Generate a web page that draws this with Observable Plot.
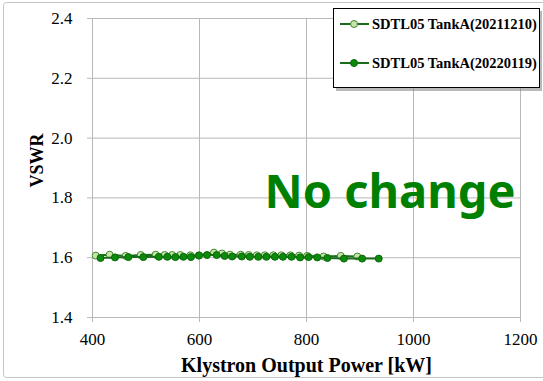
<!DOCTYPE html>
<html>
<head>
<meta charset="utf-8">
<script src="https://cdn.jsdelivr.net/npm/d3@7"></script>
<script src="https://cdn.jsdelivr.net/npm/@observablehq/plot@0.6"></script>
<style>
  html, body { margin: 0; padding: 0; background: #fff; }
  #wrap { position: relative; width: 543px; height: 381px; overflow: hidden; }
  #overlay { position: absolute; left: 0; top: 0; pointer-events: none; }
</style>
</head>
<body>
<div id="wrap"></div>
<script>
// ---- data ----
const seriesNames = ["SDTL05 TankA(20211210)", "SDTL05 TankA(20220119)"];

const powerA = [406, 432, 462, 490, 518, 535, 549, 564, 583, 599, 627, 642, 657, 677, 692, 707, 722, 738, 753, 770, 786, 801, 832, 864, 895];
const vswrA  = [1.607, 1.610, 1.606, 1.609, 1.610, 1.609, 1.609, 1.609, 1.608, 1.608, 1.617, 1.614, 1.610, 1.610, 1.609, 1.608, 1.608, 1.608, 1.608, 1.608, 1.607, 1.606, 1.604, 1.606, 1.604];

const powerB = [415, 442, 467, 495, 524, 540, 555, 570, 584, 599, 614, 632, 647, 661, 679, 694, 710, 725, 741, 756, 772, 788, 804, 820, 839, 870, 904, 935];
const vswrB  = [1.599, 1.601, 1.602, 1.602, 1.603, 1.603, 1.602, 1.603, 1.602, 1.607, 1.609, 1.609, 1.606, 1.604, 1.604, 1.603, 1.603, 1.603, 1.603, 1.603, 1.603, 1.601, 1.602, 1.601, 1.599, 1.597, 1.597, 1.597];

const xTicks = [400, 600, 800, 1000, 1200];
const yTicks = [1.4, 1.6, 1.8, 2.0, 2.2, 2.4];
const xTitle = "Klystron Output Power [kW]";
const yTitle = "VSWR";
const note = "No change";

const dataA = powerA.map((p, i) => ({power: p, vswr: vswrA[i]}));
const dataB = powerB.map((p, i) => ({power: p, vswr: vswrB[i]}));

const lineColor = "#1d6b1d";
const darkFill = "#0b8a0b";
const lightFill = "#c8e3a8";
const gridColor = "#b8b8b8";
const serif = "Liberation Serif, Times New Roman, serif";

const chart = Plot.plot({
  width: 543,
  height: 381,
  marginLeft: 92,
  marginRight: 23,
  marginTop: 18,
  marginBottom: 64,
  style: {fontFamily: serif, fontSize: "17px", color: "#000", background: "transparent"},
  x: {domain: [400, 1200], ticks: xTicks, label: null, tickFormat: d3.format("d")},
  y: {domain: [1.4, 2.4], ticks: yTicks, label: null, tickFormat: d3.format(".1f")},
  marks: [
    Plot.gridX(xTicks, {stroke: gridColor, strokeOpacity: 1}),
    Plot.gridY(yTicks, {stroke: gridColor, strokeOpacity: 1}),
    Plot.axisX(xTicks, {tickSize: 5, tickPadding: 10, stroke: gridColor, fill: "#000", fontSize: 17, fontFamily: serif, label: null, tickFormat: d3.format("d")}),
    Plot.axisY(yTicks, {tickSize: 5, tickPadding: 15, stroke: gridColor, fill: "#000", fontSize: 17, fontFamily: serif, label: null, tickFormat: d3.format(".1f")}),
    Plot.ruleX([400], {stroke: gridColor}),
    Plot.ruleY([1.4], {stroke: gridColor}),
    Plot.line(dataA, {x: "power", y: "vswr", stroke: lineColor, strokeWidth: 2}),
    Plot.dot(dataA, {x: "power", y: "vswr", r: 3.5, fill: lightFill, stroke: "#3d8a2e", strokeWidth: 1}),
    Plot.line(dataB, {x: "power", y: "vswr", stroke: lineColor, strokeWidth: 2}),
    Plot.dot(dataB, {x: "power", y: "vswr", r: 3.5, fill: darkFill, stroke: "#0a6a0a", strokeWidth: 1}),
    Plot.text([xTitle], {frameAnchor: "bottom", dy: 48, textAnchor: "middle", lineAnchor: "middle", fontWeight: "bold", fontSize: 20, fontFamily: serif, fill: "#000"}),
    Plot.text([yTitle], {frameAnchor: "left", dx: -55, dy: -7.5, rotate: -90, textAnchor: "middle", lineAnchor: "middle", fontWeight: "bold", fontSize: 18, fontFamily: serif, fill: "#000"}),
    Plot.text([note], {frameAnchor: "top-right", dx: -5, dy: 174, textAnchor: "end", lineAnchor: "middle", fontWeight: "bold", fontSize: 47, fontFamily: "Noto Sans, sans-serif", fill: "#008000"})
  ]
});

const wrap = document.getElementById("wrap");
wrap.appendChild(chart);

// overlay: outer border and legend
const ov = d3.select(wrap).append("svg")
  .attr("id", "overlay")
  .attr("width", 543).attr("height", 381);

ov.append("rect")
  .attr("x", 3.5).attr("y", 2.5).attr("width", 545).attr("height", 375)
  .attr("rx", 3)
  .attr("fill", "none").attr("stroke", "#c4c4c4").attr("stroke-width", 1);

const lg = ov.append("g");
// shadow
lg.append("rect").attr("x", 336).attr("y", 11).attr("width", 206).attr("height", 80).attr("fill", "#8a8a8a").attr("opacity", 0.6);
lg.append("rect").attr("x", 333.5).attr("y", 8.5).attr("width", 206).attr("height", 79)
  .attr("fill", "#fff").attr("stroke", "#000").attr("stroke-width", 1);

const rowsY = [24, 63];
const fills = [lightFill, darkFill];
const strokes = ["#3d8a2e", "#0a6a0a"];
seriesNames.forEach((name, i) => {
  const y = rowsY[i];
  lg.append("line").attr("x1", 340).attr("x2", 369).attr("y1", y).attr("y2", y)
    .attr("stroke", lineColor).attr("stroke-width", 2);
  lg.append("circle").attr("cx", 354).attr("cy", y).attr("r", 3.5)
    .attr("fill", fills[i]).attr("stroke", strokes[i]);
  lg.append("text").attr("x", 372).attr("y", y + 5)
    .attr("font-family", serif).attr("font-weight", "bold").attr("font-size", 14.5)
    .attr("fill", "#000").text(name);
});
</script>
</body>
</html>
